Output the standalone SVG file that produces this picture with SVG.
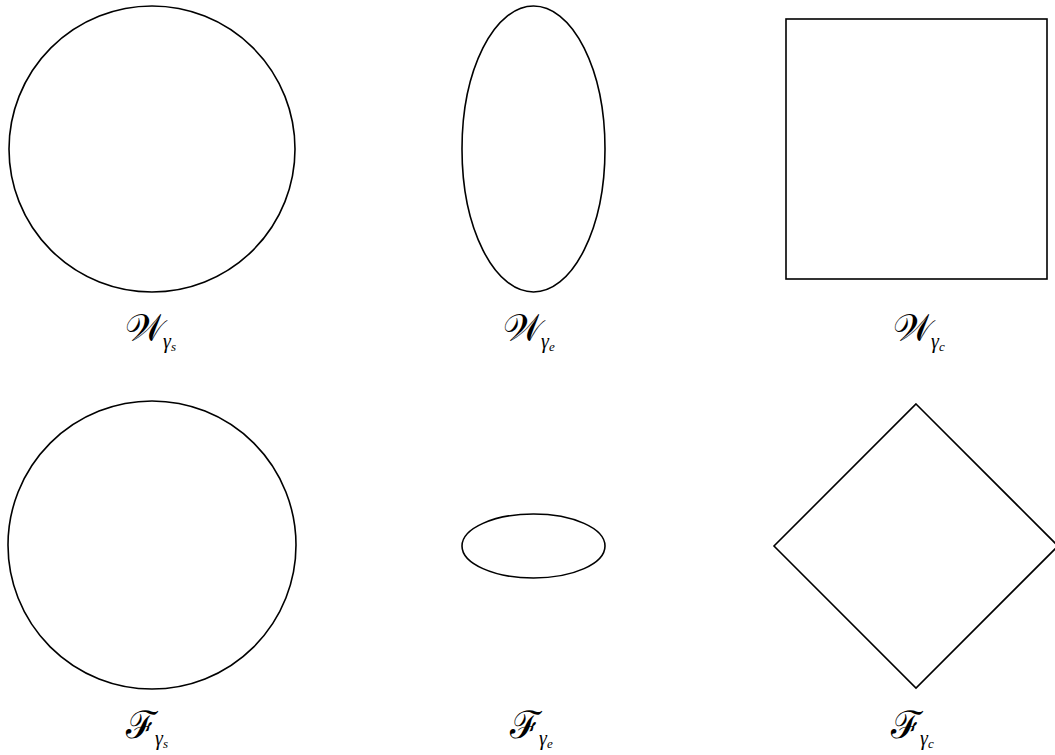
<svg xmlns="http://www.w3.org/2000/svg" width="1055" height="755" viewBox="0 0 1055 755">
<style>
.s{fill:none;stroke:#000;stroke-width:1.6}
.m{font-family:"DejaVu Serif","Liberation Serif",serif;font-size:38px;fill:#000}
.sub{font-family:"Liberation Serif",serif;font-style:italic;font-size:20px}
.sub2{font-size:13px}
</style>
<rect width="1055" height="755" fill="#fff"/>
<g id="w-s"><circle class="s" cx="152" cy="149" r="143"/><text class="m" x="125" y="341">𝒲<tspan class="sub" dx="-2" dy="7">γ<tspan class="sub2" dy="3">s</tspan></tspan></text></g>
<g id="w-e"><ellipse class="s" cx="533.5" cy="149" rx="71.5" ry="143"/><text class="m" x="503" y="341">𝒲<tspan class="sub" dx="-2" dy="7">γ<tspan class="sub2" dy="3">e</tspan></tspan></text></g>
<g id="w-c"><rect class="s" x="786" y="19" width="261" height="260"/><text class="m" x="893" y="341">𝒲<tspan class="sub" dx="-2" dy="7">γ<tspan class="sub2" dy="3">c</tspan></tspan></text></g>
<g id="f-s"><circle class="s" cx="152" cy="545" r="144"/><text class="m" x="126" y="738">ℱ<tspan class="sub" dx="-2" dy="7">γ<tspan class="sub2" dy="3">s</tspan></tspan></text></g>
<g id="f-e"><ellipse class="s" cx="533.5" cy="546" rx="71.5" ry="32"/><text class="m" x="510" y="738">ℱ<tspan class="sub" dx="-2" dy="7">γ<tspan class="sub2" dy="3">e</tspan></tspan></text></g>
<g id="f-c"><polygon class="s" points="916,404 1058,546 916,688 774,546"/><text class="m" x="891" y="738">ℱ<tspan class="sub" dx="-2" dy="7">γ<tspan class="sub2" dy="3">c</tspan></tspan></text></g>
<g id="connectors"/>
</svg>
